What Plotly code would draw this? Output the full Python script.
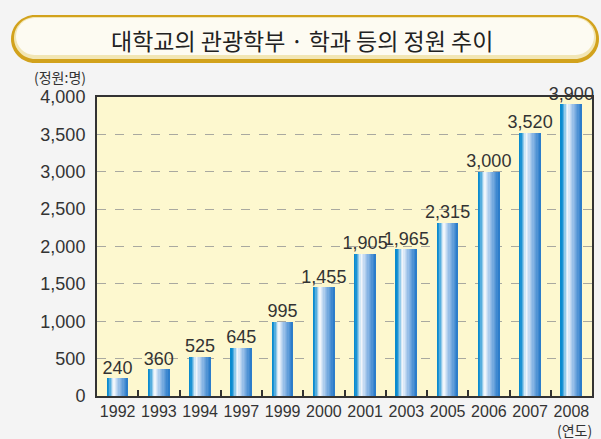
import plotly.graph_objects as go

years = ["1992", "1993", "1994", "1997", "1999", "2000", "2001", "2003", "2005", "2006", "2007", "2008"]
quota = [240, 360, 525, 645, 995, 1455, 1905, 1965, 2315, 3000, 3520, 3900]
y_ticks = [0, 500, 1000, 1500, 2000, 2500, 3000, 3500, 4000]
title_text = "대학교의 관광학부 · 학과 등의 정원 추이"
unit_y = "(정원:명)"
unit_x = "(연도)"

W, H = 601, 439
L, R, T, B = 97, 592, 97, 396

def px(x):
    return (x - L) / (R - L)

def py(y):
    return (B - y) / (B - T)

def pill(x0, y0, x1, y1):
    r = (y1 - y0) / 2
    k = 0.5523 * r
    cy = (y0 + y1) / 2
    pts = []
    pts.append(f"M {px(x0 + r)},{py(y0)}")
    pts.append(f"L {px(x1 - r)},{py(y0)}")
    pts.append(f"C {px(x1 - r + k)},{py(y0)} {px(x1)},{py(cy - k)} {px(x1)},{py(cy)}")
    pts.append(f"C {px(x1)},{py(cy + k)} {px(x1 - r + k)},{py(y1)} {px(x1 - r)},{py(y1)}")
    pts.append(f"L {px(x0 + r)},{py(y1)}")
    pts.append(f"C {px(x0 + r - k)},{py(y1)} {px(x0)},{py(cy + k)} {px(x0)},{py(cy)}")
    pts.append(f"C {px(x0)},{py(cy - k)} {px(x0 + r - k)},{py(y0)} {px(x0 + r)},{py(y0)}")
    pts.append("Z")
    return " ".join(pts)

def lerp_color(t):
    stops = [(0.0, (0, 135, 205)), (0.1, (30, 148, 212)), (0.32, (248, 250, 253)),
             (0.6, (150, 190, 232)), (1.0, (35, 120, 200))]
    for (t0, c0), (t1, c1) in zip(stops[:-1], stops[1:]):
        if t0 <= t <= t1:
            f = (t - t0) / (t1 - t0)
            c = [round(a + (b - a) * f) for a, b in zip(c0, c1)]
            return f"rgb({c[0]},{c[1]},{c[2]})"
    return "rgb(35,120,200)"

fig = go.Figure()
N = 16
bw = 0.51
sw = bw / N
for i in range(N):
    t = (i + 0.5) / N
    fig.add_trace(go.Bar(
        x=years, y=quota, width=sw * 1.05, offset=-bw / 2 + i * sw,
        marker=dict(color=lerp_color(t), line=dict(width=0)),
        hoverinfo="skip", showlegend=False))

fig.add_trace(go.Scatter(
    x=years, y=quota, mode="text", text=[f"{v:,}" for v in quota],
    textposition="top center", cliponaxis=False,
    textfont=dict(size=18, color="#333333", family="Liberation Sans, Arial"),
    showlegend=False, hoverinfo="skip"))

shapes = [
    dict(type="path", xref="paper", yref="paper", path=pill(11, 15, 599, 63),
         fillcolor="#d2a21c", line=dict(width=0), layer="below"),
    dict(type="path", xref="paper", yref="paper", path=pill(14, 17, 596, 59),
         fillcolor="#f2e6b4", line=dict(width=0), layer="below"),
    dict(type="path", xref="paper", yref="paper", path=pill(16, 18, 594, 55),
         fillcolor="#fdfbf2", line=dict(width=0), layer="below"),
]

annotations = [
    dict(text=title_text, xref="paper", yref="paper", x=px(302), y=py(40),
         xanchor="center", yanchor="middle", showarrow=False,
         font=dict(size=23, color="#222222", family="Noto Sans CJK KR")),
    dict(text=unit_y, xref="paper", yref="paper", x=px(32), y=py(77),
         xanchor="left", yanchor="middle", showarrow=False,
         font=dict(size=14, color="#333333", family="Noto Sans CJK KR")),
    dict(text=unit_x, xref="paper", yref="paper", x=px(594), y=py(430),
         xanchor="right", yanchor="middle", showarrow=False,
         font=dict(size=14, color="#333333", family="Noto Sans CJK KR")),
]

fig.update_layout(
    width=W, height=H,
    margin=dict(l=L, r=W - R, t=T, b=H - B, autoexpand=False),
    paper_bgcolor="#f4f4f4", plot_bgcolor="#fdf8cf",
    barmode="overlay", bargap=0,
    shapes=shapes, annotations=annotations,
    xaxis=dict(type="category", categoryorder="array", categoryarray=years,
               showline=True, linecolor="#333333", linewidth=2, mirror=True,
               ticks="inside", ticklen=6, tickcolor="#333333", tickwidth=1.5,
               tickson="boundaries", showgrid=False, tickangle=0, automargin=False,
               tickfont=dict(size=16, color="#333333", family="Liberation Sans, Arial"),
               range=[-0.5, 11.5]),
    yaxis=dict(range=[0, 4000], tickvals=y_ticks, tickformat=",", automargin=False,
               showline=True, linecolor="#333333", linewidth=2, mirror=True,
               showgrid=True, gridcolor="#a9a9a0", griddash="dash", gridwidth=1,
               ticks="", ticklabelstandoff=6, zeroline=False,
               tickfont=dict(size=18, color="#333333", family="Liberation Sans, Arial")),
    font=dict(family="Liberation Sans, Noto Sans CJK KR"),
)

fig.write_html("out.html", config={"displayModeBar": False},
               post_script="document.body.style.margin='0';document.body.style.overflow='hidden';")
